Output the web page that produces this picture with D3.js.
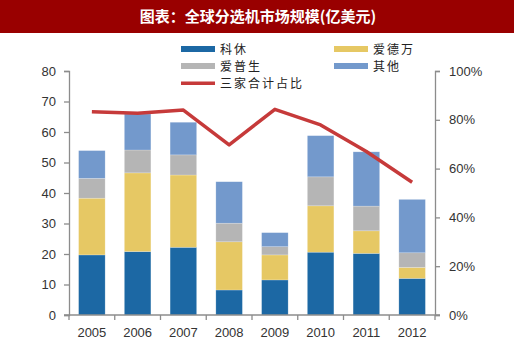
<!DOCTYPE html>
<html lang="zh">
<head>
<meta charset="UTF-8">
<script src="https://d3js.org/d3.v7.min.js"></script>
<style>
  body { margin: 0; background: #fff; font-family: "Liberation Sans", Arial, sans-serif; }
  .tick text { font-size: 13px; fill: #333; }
  .cjk { font-family: "Noto Sans CJK SC", sans-serif; }
</style>
</head>
<body>
<svg width="520" height="353"></svg>
<script>
const years = ["2005", "2006", "2007", "2008", "2009", "2010", "2011", "2012"];
const kexiu = [19.7, 20.8, 22.2, 8.2, 11.5, 20.6, 20.2, 12.0];
const aidewan = [18.6, 25.8, 23.7, 15.8, 8.2, 15.2, 7.4, 3.6];
const aipusheng = [6.5, 7.5, 6.6, 6.1, 2.7, 9.5, 8.1, 4.8];
const other = [9.1, 11.8, 10.7, 13.6, 4.6, 13.5, 17.8, 17.5];
const share = [83.3, 82.7, 84.0, 69.7, 84.3, 77.9, 67.0, 54.4];
const leftTicks = [0, 10, 20, 30, 40, 50, 60, 70, 80];
const rightTicks = [0, 20, 40, 60, 80, 100];

const seriesNames = ["科休", "爱德万", "爱普生", "其他"];
const colors = ["#1c68a4", "#e6c864", "#b5b5b5", "#7399cc"];
const lineColor = "#c63a3a";

const svg = d3.select("svg");
const plotL = 69, plotR = 435, plotT = 71, plotB = 315;

// title bar
svg.append("rect").attr("x", 0).attr("y", 0).attr("width", 514).attr("height", 33).attr("fill", "#990000");
svg.append("text").attr("class", "cjk").attr("x", 258).attr("y", 22)
  .attr("text-anchor", "middle").attr("fill", "#fff").attr("font-size", 15).attr("font-weight", "bold")
  .text("图表：全球分选机市场规模(亿美元)");

const x = d3.scaleBand().domain(years).range([plotL, plotR]).paddingInner(0.42).paddingOuter(0.21);
const y = d3.scaleLinear().domain([0, 80]).range([plotB, plotT]);
const y2 = d3.scaleLinear().domain([0, 100]).range([plotB, plotT]);

const rows = years.map((yr, i) => ({ year: yr, s0: kexiu[i], s1: aidewan[i], s2: aipusheng[i], s3: other[i] }));
const stacked = d3.stack().keys(["s0", "s1", "s2", "s3"])(rows);

svg.append("g").selectAll("g").data(stacked).join("g")
  .attr("fill", (d, i) => colors[i])
  .selectAll("rect").data(d => d).join("rect")
  .attr("x", d => x(d.data.year))
  .attr("y", d => y(d[1]))
  .attr("width", x.bandwidth())
  .attr("height", d => y(d[0]) - y(d[1]))
  .attr("stroke", "#fff").attr("stroke-opacity", 0.35).attr("stroke-width", 0.6);

// axes
const axisColor = "#8c8c8c";
const gl = svg.append("g").attr("transform", `translate(${plotL},0)`)
  .call(d3.axisLeft(y).tickValues(leftTicks).tickSize(5).tickPadding(8));
const gr = svg.append("g").attr("transform", `translate(${plotR},0)`)
  .call(d3.axisRight(y2).tickValues(rightTicks).tickSize(5).tickPadding(9).tickFormat(d => d + "%"));
[gl, gr].forEach(g => {
  g.select(".domain").attr("stroke", axisColor).attr("stroke-width", 1.3);
  g.selectAll(".tick line").attr("stroke", axisColor).attr("stroke-width", 1.3);
});

const gx = svg.append("g").attr("transform", `translate(0,${plotB})`);
gx.append("line").attr("x1", plotL - 5).attr("x2", plotR + 5).attr("y1", 0).attr("y2", 0)
  .attr("stroke", axisColor).attr("stroke-width", 1.3);
const step = x.step();
d3.range(years.length + 1).forEach(i => {
  const xx = plotL + i * step;
  gx.append("line").attr("x1", xx).attr("x2", xx).attr("y1", 0).attr("y2", 5)
    .attr("stroke", axisColor).attr("stroke-width", 1.3);
});
gx.selectAll("text.yl").data(years).join("text")
  .attr("x", d => x(d) + x.bandwidth() / 2).attr("y", 22)
  .attr("text-anchor", "middle").attr("font-size", 13).attr("fill", "#333").text(d => d);

// share line
svg.append("path").datum(share)
  .attr("fill", "none").attr("stroke", lineColor).attr("stroke-width", 3.5).attr("stroke-linejoin", "round")
  .attr("d", d3.line().x((d, i) => x(years[i]) + x.bandwidth() / 2).y(d => y2(d)));

// legend
const legend = [
  { name: seriesNames[0], color: colors[0], lx: 181, ly: 49 },
  { name: seriesNames[1], color: colors[1], lx: 334, ly: 49 },
  { name: seriesNames[2], color: colors[2], lx: 181, ly: 66 },
  { name: seriesNames[3], color: colors[3], lx: 334, ly: 66 }
];
legend.forEach(l => {
  svg.append("rect").attr("x", l.lx).attr("y", l.ly - 3).attr("width", 34).attr("height", 6).attr("fill", l.color);
  svg.append("text").attr("class", "cjk").attr("x", l.lx + 39).attr("y", l.ly + 4.5)
    .attr("font-size", 12).attr("letter-spacing", 2).attr("fill", "#222").text(l.name);
});
svg.append("rect").attr("x", 181).attr("y", 81.5).attr("width", 34).attr("height", 3.5).attr("fill", lineColor);
svg.append("text").attr("class", "cjk").attr("x", 220).attr("y", 87.5)
  .attr("font-size", 12).attr("letter-spacing", 2).attr("fill", "#222").text("三家合计占比");
</script>
</body>
</html>
